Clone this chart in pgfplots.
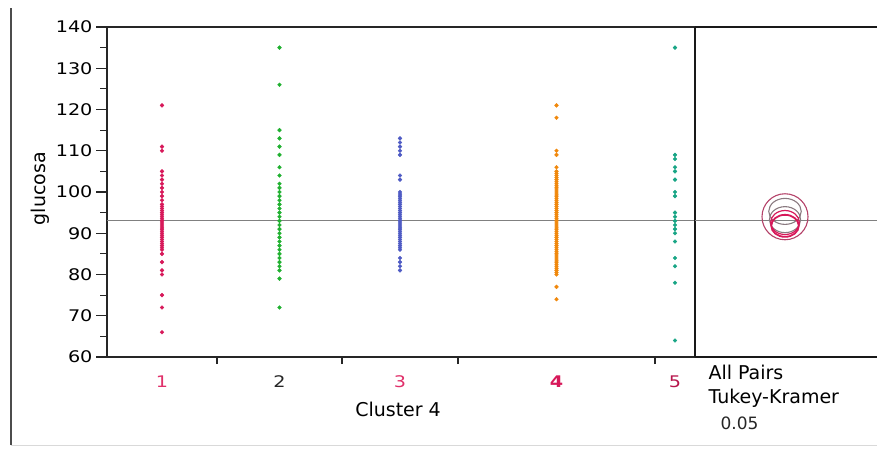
\documentclass[border=0pt]{standalone}
\usepackage{fontspec}
\setmainfont{DejaVu Sans}
\newfontfamily\tickfont{DejaVu Sans}[FakeStretch=1.2]
\usepackage{pgfplots}
\pgfplotsset{compat=1.18}
\definecolor{jred}{HTML}{D7195A}
\definecolor{jlred}{HTML}{E0306A}
\definecolor{jgreen}{HTML}{20B030}
\definecolor{jblue}{HTML}{4F5BC4}
\definecolor{jorange}{HTML}{F0880C}
\definecolor{jteal}{HTML}{18A585}
\definecolor{jgray}{HTML}{8A7A80}
\begin{document}
\begin{tikzpicture}[x=1pt,y=1pt]
\path[use as bounding box] (0,0) rectangle (877,448);
\draw[black!70, line width=1.6pt] (11,3) -- (11,440);
\draw[black!15, line width=0.8pt] (11,3) -- (877,3);
\begin{axis}[
  at={(107pt,91pt)}, anchor=south west, scale only axis,
  width=588pt, height=330pt,
  xmin=107, xmax=695, ymin=60, ymax=140,
  ytick={60,70,...,140}, minor y tick num=1,
  xtick={162,279.5,400,556.5,675},
  xticklabels={\textcolor{jlred}{1},\textcolor{black!85}{2},\textcolor{jlred}{3},\textcolor{jred}{\bfseries 4},\textcolor{jred!85!black}{5}},
  minor xtick={217,342,458,655},
  tick align=outside, tick pos=left,
  major tick length=11pt, minor tick length=7pt,
  major x tick style={draw=none},
  tick style={black!85, line width=1.1pt},
  minor tick style={black!85, line width=1.1pt},
  axis line style={black!85, line width=1.5pt},
  /pgf/number format/assume math mode=true,
  yticklabel style={font=\tickfont\fontsize{16}{18}\selectfont, black},
  xticklabel style={font=\tickfont\fontsize{16}{18}\selectfont, yshift=-4pt},
  ylabel={glucosa},
  ylabel style={at={(axis description cs:-0.114,0.51)}, anchor=center, font=\fontsize{19}{22}\selectfont, black},
  xlabel={Cluster 4},
  xlabel style={at={(axis description cs:0.495,-0.16)}, anchor=center, font=\fontsize{19}{22}\selectfont, black},
  clip=false,
]
\addplot[gray, line width=0.9pt] coordinates {(107,93) (695,93)};
% group 1
\addplot[only marks, mark=*, mark size=1.9pt, color=jred] coordinates {
(162,66)(162,72)(162,75)(162,80)(162,81)(162,83)(162,85)(162,86)(162,86.5)(162,87)(162,87.5)
(162,88)(162,88.5)(162,89)(162,89.5)(162,90)(162,90.5)(162,91)(162,91.5)(162,92)(162,92.5)
(162,93)(162,93.5)(162,94)(162,94.5)(162,95)(162,95.5)(162,96)(162,96.5)(162,97)(162,98)
(162,99)(162,100)(162,101)(162,102)(162,103)(162,104)(162,105)(162,110)(162,111)(162,121)};
% group 2
\addplot[only marks, mark=*, mark size=1.9pt, color=jgreen] coordinates {
(279.5,72)(279.5,79)(279.5,81)(279.5,82)(279.5,83)(279.5,84)(279.5,85)(279.5,86)(279.5,87)
(279.5,88)(279.5,89)(279.5,90)(279.5,91)(279.5,92)(279.5,93)(279.5,94)(279.5,95)(279.5,96)
(279.5,97)(279.5,98)(279.5,99)(279.5,100)(279.5,101)(279.5,102)(279.5,104)(279.5,106)
(279.5,109)(279.5,111)(279.5,113)(279.5,115)(279.5,126)(279.5,135)};
% group 3
\addplot[only marks, mark=*, mark size=1.9pt, color=jblue] coordinates {
(400,81)(400,82)(400,83)(400,84)(400,86)(400,86.5)(400,87)(400,87.5)(400,88)(400,88.5)
(400,89)(400,89.5)(400,90)(400,90.5)(400,91)(400,91.5)(400,92)(400,92.5)(400,93)(400,93.5)
(400,94)(400,94.5)(400,95)(400,95.5)(400,96)(400,96.5)(400,97)(400,97.5)(400,98)(400,98.5)
(400,99)(400,99.5)(400,100)(400,103)(400,104)(400,109)(400,110)(400,111)(400,112)(400,113)};
% group 4
\addplot[only marks, mark=*, mark size=1.9pt, color=jorange] coordinates {
(556.5,74)(556.5,77)(556.5,80)(556.5,80.5)(556.5,81)(556.5,81.5)(556.5,82)(556.5,82.5)
(556.5,83)(556.5,83.5)(556.5,84)(556.5,84.5)(556.5,85)(556.5,85.5)(556.5,86)(556.5,86.5)
(556.5,87)(556.5,87.5)(556.5,88)(556.5,88.5)(556.5,89)(556.5,89.5)(556.5,90)(556.5,90.5)
(556.5,91)(556.5,91.5)(556.5,92)(556.5,92.5)(556.5,93)(556.5,93.5)(556.5,94)(556.5,94.5)
(556.5,95)(556.5,95.5)(556.5,96)(556.5,96.5)(556.5,97)(556.5,97.5)(556.5,98)(556.5,98.5)
(556.5,99)(556.5,99.5)(556.5,100)(556.5,100.5)(556.5,101)(556.5,101.5)(556.5,102)(556.5,102.5)
(556.5,103)(556.5,103.5)(556.5,104)(556.5,104.5)(556.5,105)(556.5,106)(556.5,109)(556.5,110)
(556.5,118)(556.5,121)};
% group 5
\addplot[only marks, mark=*, mark size=1.9pt, color=jteal] coordinates {
(675,64)(675,78)(675,82)(675,84)(675,88)(675,90)(675,91)(675,92)(675,93)(675,94)(675,95)
(675,99)(675,100)(675,103)(675,105)(675,106)(675,108)(675,109)(675,135)};
\end{axis}
\begin{axis}[
  at={(695pt,91pt)}, anchor=south west, scale only axis,
  width=182pt, height=330pt,
  xmin=0, xmax=182, ymin=60, ymax=140,
  axis x line*=box, axis y line*=left, ticks=none,
  axis line style={black!90, line width=1.8pt},
  clip=false,
]
\addplot[gray, line width=0.9pt] coordinates {(0,93) (182,93)};
\addplot[only marks, mark=o, mark size=23pt, mark options={xscale=1.0, line width=1.1pt, draw=jred!60!gray}] coordinates {(90,94.0)};
\addplot[only marks, mark=o, mark size=13pt, mark options={xscale=1.25, line width=1.1pt, draw=jgray}] coordinates {(90,95.3)};
\addplot[only marks, mark=o, mark size=13pt, mark options={xscale=1.2, line width=1.1pt, draw=jgray}] coordinates {(90,93.3)};
\addplot[only marks, mark=o, mark size=11pt, mark options={xscale=1.25, line width=1.8pt, draw=jred}] coordinates {(90,91.8)};
\addplot[only marks, mark=o, mark size=12pt, mark options={xscale=1.2, line width=1.2pt, draw=jred}] coordinates {(90,92.6)};
\end{axis}
\node[anchor=west, font=\fontsize{19}{22}\selectfont, black] at (705,76) {All Pairs};
\node[anchor=west, font=\fontsize{19}{22}\selectfont, black] at (705,50) {Tukey-Kramer};
\node[anchor=west, font=\fontsize{17}{20}\selectfont, black!85] at (717,25) {0.05};
\end{tikzpicture}
\end{document}
